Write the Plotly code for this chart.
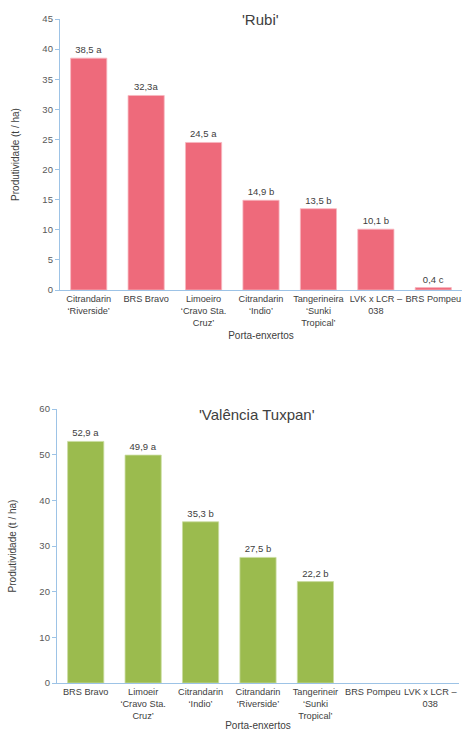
import plotly.graph_objects as go

# Productivity of two orange cultivars on different rootstocks
rubi_rootstocks = [
    "Citrandarin<br>‘Riverside’",
    "BRS Bravo",
    "Limoeiro<br>‘Cravo Sta.<br>Cruz’",
    "Citrandarin<br>‘Indio’",
    "Tangerineira<br>‘Sunki<br>Tropical’",
    "LVK x LCR –<br>038",
    "BRS Pompeu",
]
rubi_yield = [38.5, 32.3, 24.5, 14.9, 13.5, 10.1, 0.4]
rubi_groups = [" a", "a", " a", " b", " b", " b", " c"]

tuxpan_rootstocks = [
    "BRS Bravo",
    "Limoeir<br>‘Cravo Sta.<br>Cruz’",
    "Citrandarin<br>‘Indio’",
    "Citrandarin<br>‘Riverside’",
    "Tangerineir<br>‘Sunki<br>Tropical’",
    "BRS Pompeu",
    "LVK x LCR –<br>038",
]
tuxpan_yield = [52.9, 49.9, 35.3, 27.5, 22.2, None, None]
tuxpan_groups = [" a", " a", " b", " b", " b", "", ""]

y_ticks_rubi = list(range(0, 46, 5))
y_ticks_tuxpan = list(range(0, 61, 10))

FONT = "Liberation Sans, Arial, sans-serif"
AXIS_BLUE = "#9DC3E6"
TEXT_GREY = "#595959"
LABEL_DARK = "#404040"


def labels(values, groups):
    out = []
    for v, g in zip(values, groups):
        out.append("" if v is None else f"{v:.1f}".replace(".", ",") + g)
    return out


fig = go.Figure()
fig.add_trace(go.Bar(
    x=rubi_rootstocks, y=rubi_yield, xaxis="x", yaxis="y",
    marker=dict(color="#EE6A7B", line=dict(color="#F7B8C0", width=0.8)),
    text=labels(rubi_yield, rubi_groups), textposition="outside",
    textfont=dict(size=9.5, color=LABEL_DARK, family=FONT),
    cliponaxis=False, showlegend=False,
))
fig.add_trace(go.Bar(
    x=tuxpan_rootstocks, y=tuxpan_yield, xaxis="x2", yaxis="y2",
    marker=dict(color="#9BBB4E", line=dict(color="#C9DCA0", width=0.8)),
    text=labels(tuxpan_yield, tuxpan_groups), textposition="outside",
    textfont=dict(size=9.5, color=LABEL_DARK, family=FONT),
    cliponaxis=False, showlegend=False,
))

H = 731.0
W = 463.0

common_x = dict(
    showline=True, linecolor=AXIS_BLUE, linewidth=1.3, ticks="",
    showgrid=False, tickfont=dict(size=9.2, color=LABEL_DARK, family=FONT),
    tickangle=0, fixedrange=True, automargin=False,
)
common_y = dict(
    showline=True, linecolor=AXIS_BLUE, linewidth=1.3, ticks="outside",
    ticklen=4, tickcolor=AXIS_BLUE, showgrid=False, zeroline=False,
    tickfont=dict(size=9.5, color=TEXT_GREY, family=FONT), automargin=False,
)

x_title = dict(text="Porta-enxertos", standoff=4,
               font=dict(size=10, color=LABEL_DARK))
y_title = dict(text="Produtividade (t / ha)", standoff=20,
               font=dict(size=10, color=LABEL_DARK))

fig.update_layout(
    width=463, height=731,
    margin=dict(l=0, r=0, t=0, b=0, autoexpand=False),
    paper_bgcolor="white", plot_bgcolor="white",
    bargap=0.37,
    font=dict(family=FONT, color=TEXT_GREY),
    xaxis=dict(common_x, domain=[60 / W, 462 / W], anchor="y", title=x_title),
    yaxis=dict(common_y, domain=[1 - 290 / H, 1 - 19 / H], anchor="x",
               range=[0, 45], tickvals=y_ticks_rubi, title=y_title),
    xaxis2=dict(common_x, domain=[57 / W, 459 / W], anchor="y2", title=x_title),
    yaxis2=dict(common_y, domain=[1 - 683 / H, 1 - 409 / H], anchor="x2",
                range=[0, 60], tickvals=y_ticks_tuxpan, title=y_title),
    annotations=[
        dict(text="'Rubi'", xref="paper", yref="paper",
             x=260 / W, y=1 - 20 / H, xanchor="center", yanchor="middle",
             showarrow=False,
             font=dict(size=15, color=LABEL_DARK, family=FONT)),
        dict(text="'Valência Tuxpan'", xref="paper", yref="paper",
             x=257 / W, y=1 - 415 / H, xanchor="center", yanchor="middle",
             showarrow=False,
             font=dict(size=15, color=LABEL_DARK, family=FONT)),
    ],
)

fig.write_html("out.html")
